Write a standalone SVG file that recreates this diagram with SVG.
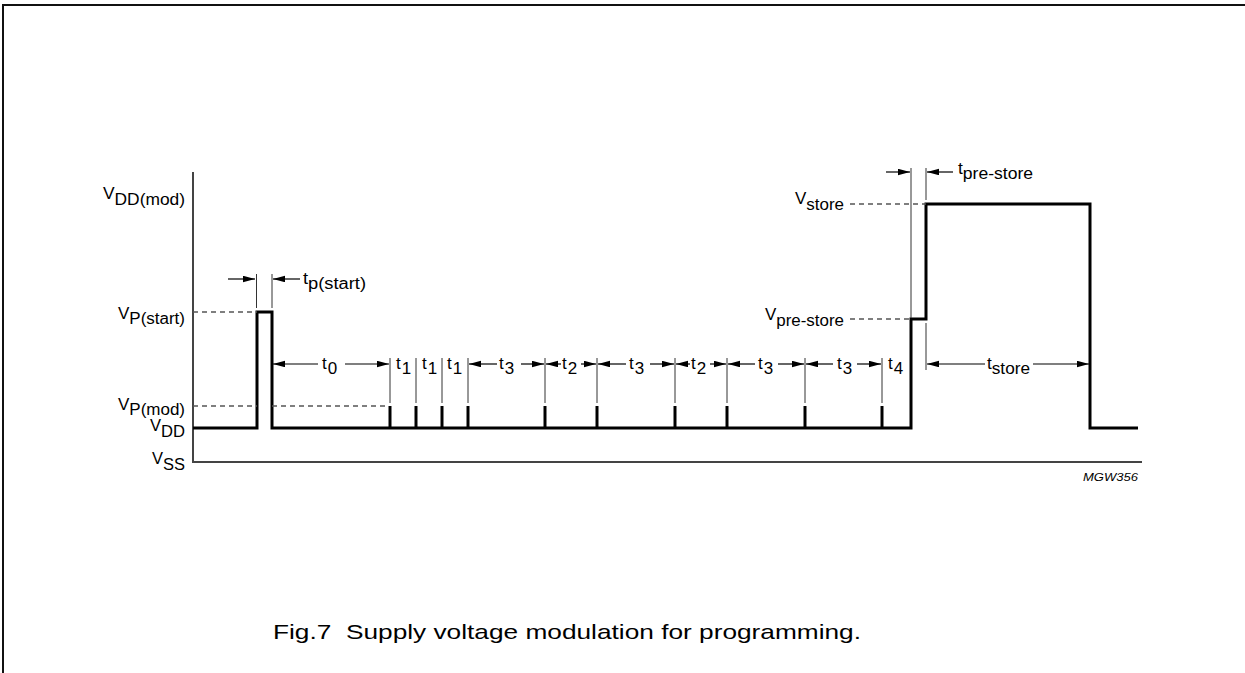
<svg xmlns="http://www.w3.org/2000/svg" width="1245" height="673" viewBox="0 0 1245 673">
<style>
text{font-family:"Liberation Sans",Arial,sans-serif;font-size:16px;fill:#000}
.tl{font-size:17px}
.wave{fill:none;stroke:#000;stroke-width:3;stroke-linejoin:miter}
.pulse{stroke:#000;stroke-width:3}
.axis{fill:none;stroke:#444;stroke-width:2}
.dash{stroke:#555;stroke-width:1.5;stroke-dasharray:5 4}
.ext{stroke:#333;stroke-width:1}
.arr{stroke:#000;stroke-width:1.2;marker-end:url(#ah)}
.frame{fill:none;stroke:#111;stroke-width:2}
</style>
<defs>
<marker id="ah" markerUnits="userSpaceOnUse" markerWidth="13" markerHeight="7" refX="12" refY="3.25" orient="auto">
<path d="M0,0 L12,3.25 L0,6.5 z" fill="#000"/>
</marker>
</defs>
<rect width="1245" height="673" fill="#fff"/>
<path class="frame" d="M3,673 V5 H1245"/>

<g id="axes">
<path class="axis" d="M193,172 V462 H1142"/>
</g>

<g id="waveform">
<path class="wave" d="M193,428 H257 V312 H272 V428 H911 V319 H926 V204 H1090 V428 H1138"/>
<g class="pulse">
<line x1="390" y1="406" x2="390" y2="428"/>
<line x1="416" y1="406" x2="416" y2="428"/>
<line x1="442" y1="406" x2="442" y2="428"/>
<line x1="468" y1="406" x2="468" y2="428"/>
<line x1="545" y1="406" x2="545" y2="428"/>
<line x1="597" y1="406" x2="597" y2="428"/>
<line x1="675" y1="406" x2="675" y2="428"/>
<line x1="727" y1="406" x2="727" y2="428"/>
<line x1="805" y1="406" x2="805" y2="428"/>
<line x1="882" y1="406" x2="882" y2="428"/>
</g>
</g>

<g id="connectors">
<g class="dash">
<line x1="193" y1="312" x2="257" y2="312"/>
<line x1="193" y1="406" x2="257" y2="406"/>
<line x1="272" y1="406" x2="388" y2="406"/>
<line x1="850" y1="204" x2="926" y2="204"/>
<line x1="850" y1="319" x2="911" y2="319"/>
</g>
<g class="ext">
<line x1="256.5" y1="274" x2="256.5" y2="308"/>
<line x1="272" y1="274" x2="272" y2="308"/>
<line x1="390" y1="358" x2="390" y2="403"/>
<line x1="416" y1="358" x2="416" y2="403"/>
<line x1="442" y1="358" x2="442" y2="403"/>
<line x1="468" y1="358" x2="468" y2="403"/>
<line x1="545" y1="358" x2="545" y2="403"/>
<line x1="597" y1="358" x2="597" y2="403"/>
<line x1="675" y1="358" x2="675" y2="403"/>
<line x1="727" y1="358" x2="727" y2="403"/>
<line x1="805" y1="358" x2="805" y2="403"/>
<line x1="882" y1="358" x2="882" y2="403"/>
<line x1="911" y1="168" x2="911" y2="318"/>
<line x1="926" y1="168" x2="926" y2="200"/>
<line x1="926" y1="323" x2="926" y2="370"/>
</g>
<g class="arr">
<line x1="228" y1="279" x2="255" y2="279"/>
<line x1="300" y1="279" x2="273" y2="279"/>
<line x1="318" y1="364" x2="273" y2="364"/>
<line x1="345" y1="364" x2="389" y2="364"/>
<line x1="497" y1="364" x2="469" y2="364"/>
<line x1="521" y1="364" x2="544" y2="364"/>
<line x1="561" y1="364" x2="546" y2="364"/>
<line x1="581" y1="364" x2="596" y2="364"/>
<line x1="626" y1="364" x2="598" y2="364"/>
<line x1="650" y1="364" x2="674" y2="364"/>
<line x1="690" y1="364" x2="676" y2="364"/>
<line x1="710" y1="364" x2="726" y2="364"/>
<line x1="755" y1="364" x2="728" y2="364"/>
<line x1="778" y1="364" x2="804" y2="364"/>
<line x1="833" y1="364" x2="806" y2="364"/>
<line x1="857" y1="364" x2="881" y2="364"/>
<line x1="886" y1="172" x2="910" y2="172"/>
<line x1="953" y1="172" x2="927" y2="172"/>
<line x1="985" y1="364" x2="927" y2="364"/>
<line x1="1033" y1="364" x2="1089" y2="364"/>
</g>
</g>

<g id="label-vddmod"><text x="103" y="199" textLength="82" lengthAdjust="spacingAndGlyphs">V<tspan dy="6">DD(mod)</tspan></text></g>
<g id="label-vpstart"><text x="118" y="319" textLength="67" lengthAdjust="spacingAndGlyphs">V<tspan dy="5">P(start)</tspan></text></g>
<g id="label-vpmod"><text x="118" y="410" textLength="67" lengthAdjust="spacingAndGlyphs">V<tspan dy="5">P(mod)</tspan></text></g>
<g id="label-vdd"><text x="150" y="431" textLength="35" lengthAdjust="spacingAndGlyphs">V<tspan dy="6">DD</tspan></text></g>
<g id="label-vss"><text x="152" y="464" textLength="33" lengthAdjust="spacingAndGlyphs">V<tspan dy="6">SS</tspan></text></g>
<g id="label-vstore"><text x="795" y="204" textLength="49" lengthAdjust="spacingAndGlyphs">V<tspan dy="6">store</tspan></text></g>
<g id="label-vprestore"><text x="765" y="320" textLength="79" lengthAdjust="spacingAndGlyphs">V<tspan dy="6">pre-store</tspan></text></g>
<g id="label-tpstart"><text x="303" y="284" textLength="63" lengthAdjust="spacingAndGlyphs">t<tspan dy="5">p(start)</tspan></text></g>
<g id="label-tprestore"><text x="958" y="174" textLength="75" lengthAdjust="spacingAndGlyphs">t<tspan dy="5">pre-store</tspan></text></g>
<g id="label-tstore"><text x="987" y="369" textLength="43" lengthAdjust="spacingAndGlyphs">t<tspan dy="5">store</tspan></text></g>
<g id="label-t0"><text class="tl" x="322" y="369">t<tspan dx="1" dy="5">0</tspan></text></g>
<g id="label-t1a"><text class="tl" x="396" y="369">t<tspan dx="1" dy="5">1</tspan></text></g>
<g id="label-t1b"><text class="tl" x="422" y="369">t<tspan dx="1" dy="5">1</tspan></text></g>
<g id="label-t1c"><text class="tl" x="447" y="369">t<tspan dx="1" dy="5">1</tspan></text></g>
<g id="label-t3a"><text class="tl" x="499" y="369">t<tspan dx="1" dy="5">3</tspan></text></g>
<g id="label-t2a"><text class="tl" x="562" y="369">t<tspan dx="1" dy="5">2</tspan></text></g>
<g id="label-t3b"><text class="tl" x="629" y="369">t<tspan dx="1" dy="5">3</tspan></text></g>
<g id="label-t2b"><text class="tl" x="691" y="369">t<tspan dx="1" dy="5">2</tspan></text></g>
<g id="label-t3c"><text class="tl" x="758" y="369">t<tspan dx="1" dy="5">3</tspan></text></g>
<g id="label-t3d"><text class="tl" x="837" y="369">t<tspan dx="1" dy="5">3</tspan></text></g>
<g id="label-t4"><text class="tl" x="888" y="369">t<tspan dx="1" dy="5">4</tspan></text></g>

<g id="code"><text x="1083" y="481" textLength="55" lengthAdjust="spacingAndGlyphs" style="font-size:11px;font-style:italic">MGW356</text></g>
<g id="caption"><text x="273" y="639" textLength="588" lengthAdjust="spacingAndGlyphs" style="font-size:21px;white-space:pre">Fig.7  Supply voltage modulation for programming.</text></g>
</svg>
